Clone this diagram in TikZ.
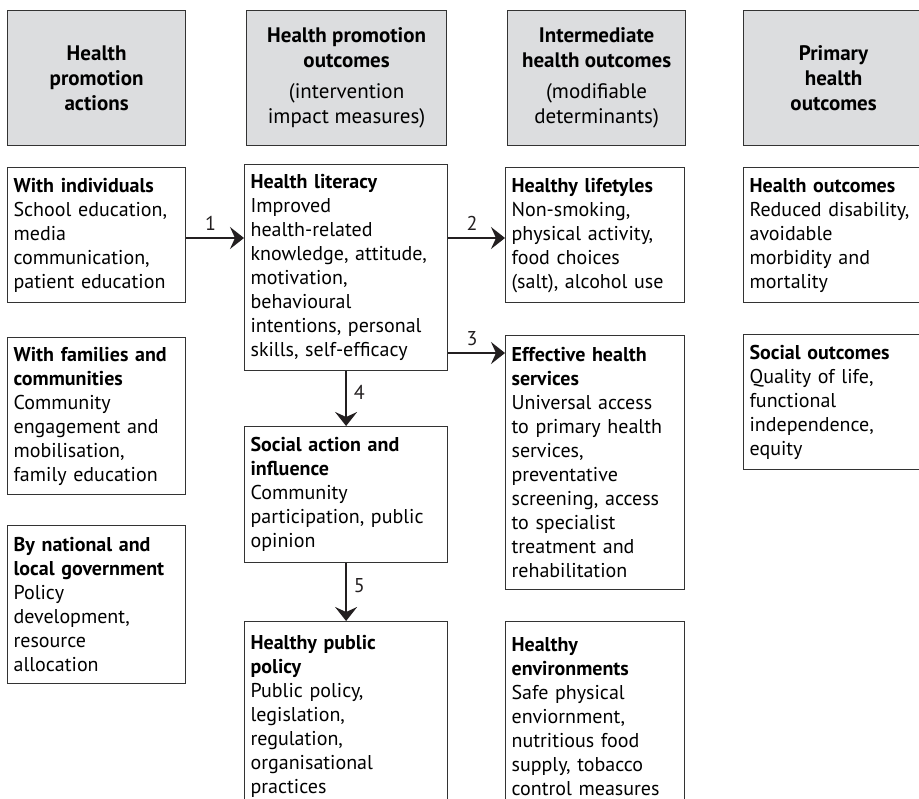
\documentclass[tikz,border=0pt]{standalone}
\usepackage{fontspec}
\setmainfont{PT Sans}
\usetikzlibrary{arrows.meta}

\definecolor{headgray}{RGB}{220,221,223}
\definecolor{linegray}{RGB}{51,51,51}
\definecolor{inkblack}{RGB}{35,31,32}

\begin{document}
\begin{tikzpicture}[x=0.5pt, y=0.5pt]
			\tikzstyle{head} = [draw=linegray, line width=0.6pt, fill=headgray, anchor=north west, align=center, minimum height=67.5pt, inner sep=0pt, font=\fontsize{10.5}{12.5}\selectfont]
			\tikzstyle{box}  = [draw=linegray, line width=0.6pt, fill=white, anchor=north west, align=left, inner xsep=3pt, inner ysep=3pt, font=\fontsize{10}{12}\selectfont]
			\tikzstyle{arr}  = [-{Stealth[length=7pt, width=11pt, inset=2.5pt]}, line width=1pt, draw=inkblack]
			\tikzstyle{num}  = [font=\fontsize{10}{12}\selectfont, text=inkblack]

			\useasboundingbox (0,0) rectangle (919,-798);
			\clip (0,0) rectangle (919,-798);
			\fill[white] (0,0) rectangle (919,-798);

%			\draw[step=50, gray!50] (0,-798) grid (919,0);

			% column heads
			\node[head, minimum width=89pt] (act) at (7,-10) {\textbf{Health}\\\textbf{promotion}\\\textbf{actions}};
			\node[head, minimum width=100pt] (imp) at (246,-10) {\textbf{Health promotion}\\\textbf{outcomes}\\[3pt](intervention\\impact measures)};
			\node[head, minimum width=89pt] (inter) at (507,-10) {\textbf{Intermediate}\\\textbf{health outcomes}\\[3pt](modifiable\\determinants)};
			\node[head, minimum width=90pt] (prim) at (743,-10) {\textbf{Primary}\\\textbf{health}\\\textbf{outcomes}};

			% actions
			\node[box, text width=83pt, minimum height=67.5pt] (ind) at (7,-167) {\textbf{With individuals}\\School education,\\media\\communication,\\patient education};
			\node[box, text width=83pt, minimum height=78.5pt] (fam) at (7,-337) {\textbf{With families and}\\\textbf{communities}\\Community\\engagement and\\mobilisation,\\family education};
			\node[box, text width=83pt, minimum height=79pt] (gov) at (7,-525) {\textbf{By national and}\\\textbf{local government}\\Policy\\development,\\resource\\allocation};

			% health promotion outcomes
			\node[box, text width=95.5pt, minimum height=103pt] (lit) at (244,-164) {\textbf{Health literacy}\\Improved\\health-related\\knowledge, attitude,\\motivation,\\behavioural\\intentions, personal\\skills, self-efficacy};
			\node[box, text width=95.5pt, minimum height=68pt] (soc) at (244,-426) {\textbf{Social action and}\\\textbf{influence}\\Community\\participation, public\\opinion};
			\node[box, text width=95.5pt, minimum height=95pt] (pol) at (244,-621) {\textbf{Healthy public}\\\textbf{policy}\\Public policy,\\legislation,\\regulation,\\organisational\\practices};

			% intermediate outcomes
			\node[box, text width=83.5pt, minimum height=67.5pt] (life) at (505,-167) {\textbf{Healthy lifetyles}\\Non-smoking,\\physical activity,\\food choices\\(salt), alcohol use};
			\node[box, text width=83.5pt, minimum height=127pt] (serv) at (505,-335) {\textbf{Effective health}\\\textbf{services}\\Universal access\\to primary health\\services,\\preventative\\screening, access\\to specialist\\treatment and\\rehabilitation};
			\node[box, text width=83.5pt, minimum height=95pt] (env) at (505,-621) {\textbf{Healthy}\\\textbf{environments}\\Safe physical\\enviornment,\\nutritious food\\supply, tobacco\\control measures};

			% primary outcomes
			\node[box, text width=85pt, minimum height=67.5pt] (hout) at (743,-167) {\textbf{Health outcomes}\\Reduced disability,\\avoidable\\morbidity and\\mortality};
			\node[box, text width=85pt, minimum height=67.5pt] (sout) at (743,-334) {\textbf{Social outcomes}\\Quality of life,\\functional\\independence,\\equity};

			\coordinate (top) at (0,-238);
			\coordinate (mid) at (0,-353);

			\foreach \from/\to/\n in {ind/lit/1, lit/life/2}
				\draw[arr] (\from.east |- top) -- node[num, above, pos=0.42] {\n} (\to.west |- top);
			\draw[arr] (lit.east |- mid) -- node[num, above, pos=0.42] {3} (serv.west |- mid);

			\foreach \from/\to/\n in {lit/soc/4, soc/pol/5}
				\draw[arr] (\from.south) -- node[num, right, pos=0.38] {\n} (\to.north);
\end{tikzpicture}
\end{document}
